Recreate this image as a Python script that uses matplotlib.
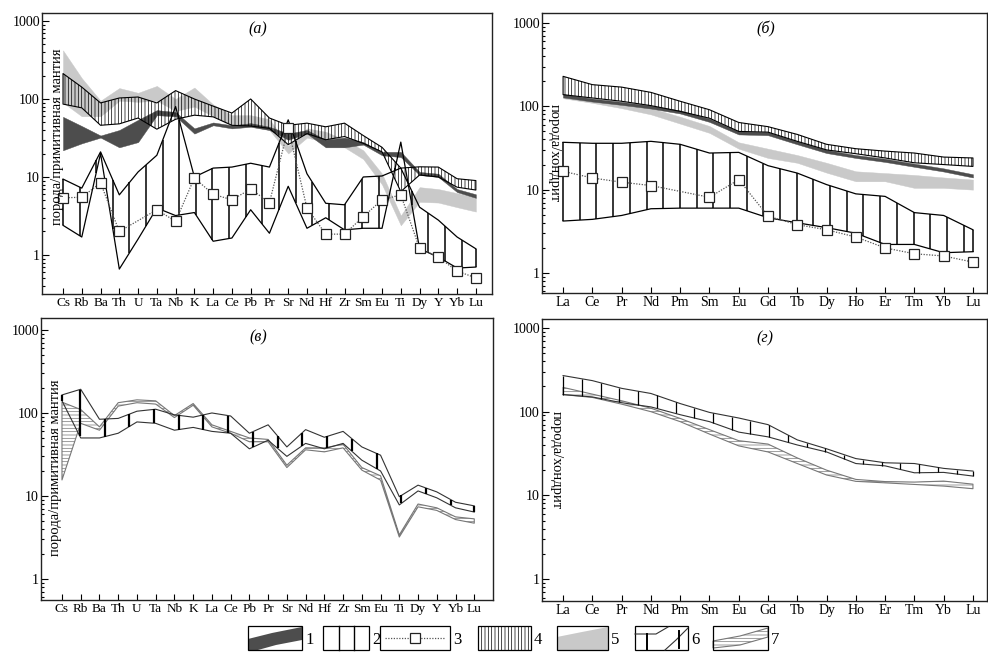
import matplotlib.pyplot as plt
import matplotlib.patches as mpatches
from matplotlib.ticker import LogLocator, NullFormatter
import numpy as np

plt.rcParams['font.family'] = 'Liberation Serif'
plt.rcParams['hatch.linewidth'] = 0.5

nan = np.nan

# element order for the spider diagrams and REE plots
spider = ['Cs', 'Rb', 'Ba', 'Th', 'U', 'Ta', 'Nb', 'K', 'La', 'Ce', 'Pb', 'Pr',
          'Sr', 'Nd', 'Hf', 'Zr', 'Sm', 'Eu', 'Ti', 'Dy', 'Y', 'Yb', 'Lu']
ree = ['La', 'Ce', 'Pr', 'Nd', 'Pm', 'Sm', 'Eu', 'Gd', 'Tb', 'Dy', 'Ho', 'Er',
       'Tm', 'Yb', 'Lu']

# (а) rock / primitive mantle
a1_hi = [59, 45, 34, 40, 54, 72, 68, 42, 50, 46, 49, 44, 36, 40, 30, 32, 28, 21, 21, 11.6, 11, 7.0, 6.0]
a1_lo = [22, 27, 32, 24, 28, 62, 60, 36, 46, 42, 44, 40, 30, 36, 24, 24, 26, 19, 18, 10.6, 10, 6.4, 5.4]
a2_hi = [9.4, 7.2, 21, 5.9, 11.6, 19, 80, 10, 13, 13.4, 15, 13.4, 54, 11, 4.6, 4.4, 10, 10.3, 13, 4.1, 2.8, 1.7, 1.2]
a2_lo = [2.4, 1.7, 20, 0.66, 1.6, 4.0, 3.2, 3.5, 1.5, 1.65, 3.8, 1.9, 7.6, 2.2, 3.0, 2.1, 2.2, 2.2, 28, 1.2, 0.94, 0.68, 0.7]
a3 = [5.4, 5.5, 8.4, 2.0, nan, 3.8, 2.7, 9.7, 6.0, 5.1, 7.0, 4.7, 42, 4.0, 1.85, 1.85, 3.1, 5.1, 5.9, 1.22, 0.94, 0.62, 0.51]
a4_hi = [212, 142, 89, 103, 106, 89, 128, 100, 81, 66, 100, 57, 46, 49, 44, 49, 34, 24, 13, 13.5, 13.4, 9.5, 9.0]
a4_lo = [86, 77, 46, 48, 57, 41, 55, 62, 59, 46, 45, 42, 26, 36, 30, 33, 27, 21, 6.5, 10.6, 10, 7.4, 6.8]
a5_hi = [420, 185, 95, 138, 120, 147, 100, 140, 85, 62, 62, 55, 25, 42, 38, 30, 22, 11, 3.2, 7.4, 7.0, 6.2, 5.5]
a5_lo = [90, 60, 60, 95, 92, 95, 70, 80, 60, 45, 45, 40, 20, 32, 28, 24, 17, 8, 2.4, 4.8, 4.7, 4.1, 3.6]

# (б) rock / chondrite
b1_hi = [140, 124, 113, 102, 89, 71, 50, 49, 38, 30, 26, 23.5, 20.5, 18, 15.3]
b1_lo = [128, 114, 104, 94, 82, 65, 46, 45, 35, 27.5, 24, 21.5, 18.8, 16.5, 14.0]
b2_hi = [37, 36, 36, 38, 35, 27.5, 28, 19.4, 15.8, 11.5, 8.9, 8.3, 5.3, 4.9, 3.3]
b2_lo = [4.2, 4.4, 4.9, 5.9, 6.0, 6.0, 6.0, 4.6, 4.0, 3.5, 3.0, 2.2, 2.2, 1.75, 1.8]
b3 = [16.6, 13.8, 12.3, 11.2, nan, 8.1, 13.2, 4.8, 3.8, 3.3, 2.7, 2.0, 1.7, 1.6, 1.35]
b4_hi = [229, 182, 170, 147, 115, 91, 64, 57, 46, 35, 31, 29, 27.5, 24.6, 24]
b4_lo = [138, 126, 115, 102, 87, 72, 50, 49, 38, 30, 27, 24, 21, 20, 19]
b5_hi = [135, 120, 110, 95, 75, 58, 37, 31, 26, 21, 16.6, 15.8, 15, 14, 13.2]
b5_lo = [125, 110, 95, 80, 62, 48, 31, 24, 21, 16, 12.6, 12.6, 10.5, 10.5, 10]

# (в) rock / primitive mantle
v6_hi = [165, 193, 84, 86, 105, 111, 95, 89, 100, 92, 57, 72, 39, 63, 51, 60, 39, 31, 9.8, 13.5, 11.2, 8.4, 7.6]
v6_lo = [140, 50, 50, 57, 78, 75, 62, 67, 60, 57, 37, 47, 30, 43, 37, 43, 27, 20, 7.8, 11.5, 9.5, 7.2, 6.4]
v7_hi = [135, 110, 68, 133, 144, 140, 93, 130, 72, 60, 50, 48, 23.5, 38, 38, 42, 22, 17.5, 3.4, 8.0, 7.2, 5.6, 5.3]
v7_lo = [15.6, 75, 62, 121, 133, 128, 88, 124, 68, 57, 45, 45, 22, 36, 34, 38, 20.5, 15.5, 3.2, 7.4, 6.7, 5.2, 4.7]

# (г) rock / chondrite
g6_hi = [270, 235, 190, 165, 125, 98, 84, 70, 46, 36, 27.5, 24.5, 24, 21, 19.5]
g6_lo = [160, 150, 128, 114, 92, 76, 57, 50, 40, 33, 24, 22.5, 18.6, 18.8, 17]
g7_hi = [195, 162, 135, 110, 83, 61, 45, 41, 28, 20, 15.5, 14.6, 14.4, 14.8, 13.6]
g7_lo = [160, 148, 123, 100, 76, 54, 39, 33, 24, 17.5, 14.7, 14.1, 13.5, 12.9, 12]

DARK = '#4d4d4d'
LIGHT = '#c9c9c9'


def solid_band(ax, lo, hi, color):
    x = np.arange(len(lo))
    ax.fill_between(x, lo, hi, color=color, lw=0.3, zorder=1)


def hatch_band(ax, lo, hi, hatch, color, lw=0.8, z=2):
    x = np.arange(len(lo))
    ax.fill_between(x, lo, hi, facecolor='none', edgecolor=color, hatch=hatch,
                    lw=lw, zorder=z)


def bar_band(ax, lo, hi, step, start=0.0, blw=1.1, elw=0.9, color='k', bcolor='k'):
    # outlined band with vertical strokes spaced along x
    n = len(lo)
    x = np.arange(n)
    ax.plot(x, hi, color=color, lw=elw, zorder=3)
    ax.plot(x, lo, color=color, lw=elw, zorder=3)
    xs = np.unique(np.concatenate([[0, n - 1], np.arange(start, n - 1, step)]))
    l = 10 ** np.interp(xs, x, np.log10(lo))
    h = 10 ** np.interp(xs, x, np.log10(hi))
    ax.vlines(xs, l, h, color=bcolor, lw=blw, zorder=3)


def squares(ax, vals):
    v = np.array(vals, float)
    x = np.arange(len(v))
    m = ~np.isnan(v)
    ax.plot(x[m], v[m], ls=(0, (1, 1.2)), color='#555555', lw=0.9, zorder=4)
    ax.plot(x[m], v[m], ls='none', marker='s', ms=6.8, mfc='white',
            mec='#222222', mew=0.9, zorder=5)


def setup(ax, labels, xlim, ylim, fs, ylabel, ylab_xy, rot, title, title_xy):
    ax.set_yscale('log')
    ax.set_xlim(*xlim)
    ax.set_ylim(*ylim)
    ax.set_xticks(range(len(labels)))
    ax.set_xticklabels(labels, fontsize=fs)
    ax.set_yticks([1, 10, 100, 1000])
    ax.set_yticklabels(['1', '10', '100', '1000'], fontsize=10)
    ax.yaxis.set_minor_locator(LogLocator(base=10, subs=np.arange(2, 10)))
    ax.yaxis.set_minor_formatter(NullFormatter())
    ax.tick_params(direction='in', which='both', width=0.8)
    ax.tick_params(axis='x', length=4, pad=2)
    ax.tick_params(axis='y', which='major', length=5, pad=1.5)
    ax.tick_params(axis='y', which='minor', length=2.5)
    for s in ax.spines.values():
        s.set_linewidth(1.0)
        s.set_color('#222222')
    ax.text(*ylab_xy, ylabel, transform=ax.transAxes, rotation=rot,
            ha='center', va='center', fontsize=10.5, zorder=6)
    ax.text(*title_xy, title, transform=ax.transAxes, ha='center', va='center',
            fontsize=11.5, style='italic')


fig = plt.figure(figsize=(9.88, 6.52), dpi=100)
W, H = 988.0, 652.0


def axes_px(left, top, right, bottom):
    return fig.add_axes([left / W, 1 - bottom / H, (right - left) / W, (bottom - top) / H])


ax_a = axes_px(42, 13, 492, 294)
ax_b = axes_px(542, 13, 987, 293)
ax_v = axes_px(41, 318, 493, 600)
ax_g = axes_px(542, 319, 987, 601)

# (а)
solid_band(ax_a, a5_lo, a5_hi, LIGHT)
solid_band(ax_a, a1_lo, a1_hi, DARK)
hatch_band(ax_a, a4_lo, a4_hi, '|||||', 'black')
bar_band(ax_a, a2_lo, a2_hi, step=0.885)
squares(ax_a, a3)
setup(ax_a, spider, (-1.12, 22.86), (0.316, 1266), 9.5,
      'порода/примитивная мантия', (0.034, 0.56), 90, '(а)', (0.48, 0.94))

# (б)
solid_band(ax_b, b5_lo, b5_hi, LIGHT)
solid_band(ax_b, b1_lo, b1_hi, DARK)
hatch_band(ax_b, b4_lo, b4_hi, '|||||', 'black')
bar_band(ax_b, b2_lo, b2_hi, step=0.57)
squares(ax_b, b3)
setup(ax_b, ree, (-0.72, 14.48), (0.575, 1318), 10,
      'порода/хондрит', (0.027, 0.5), 270, '(б)', (0.503, 0.94))

# (в)
hatch_band(ax_v, v7_lo, v7_hi, '-----', '#777777', lw=0.8)
bar_band(ax_v, v6_lo, v6_hi, step=1.32, start=0.95, blw=1.6, elw=0.8,
         color='#333333', bcolor='black')
setup(ax_v, spider, (-1.12, 23.0), (0.558, 1394), 9.5,
      'порода/примитивная мантия', (0.031, 0.47), 90, '(в)', (0.48, 0.93))

# (г)
hatch_band(ax_g, g7_lo, g7_hi, '-----', '#777777', lw=0.8)
bar_band(ax_g, g6_lo, g6_hi, step=0.64, start=0.0, blw=0.9, elw=0.8,
         color='#333333', bcolor='black')
setup(ax_g, ree, (-0.72, 14.48), (0.546, 1281), 10,
      'порода/хондрит', (0.031, 0.5), 270, '(г)', (0.50, 0.93))

# legend strip along the bottom, in pixel units
lg = fig.add_axes([0, 0, 1, 36 / H])
lg.set_xlim(0, W)
lg.set_ylim(H, H - 36)
lg.axis('off')
top, bot = 626, 650
boxes = [(248, 302), (323, 369), (380, 450), (478, 531), (557, 608), (635, 688), (713, 768)]

lg.add_patch(mpatches.Polygon([(248, bot), (248, 639), (272, 633), (302, 627), (302, 640),
                               (276, 645), (258, bot)], closed=True, color=DARK, lw=0))
for xx in (338.5, 354):
    lg.plot([xx, xx], [top, bot], color='k', lw=1.0)
lg.plot([385, 445], [638, 638], ls=(0, (1, 1.2)), color='#555555', lw=0.9)
lg.plot([415], [638], ls='none', marker='s', ms=6.8, mfc='white', mec='#222222', mew=0.9)
lg.add_patch(mpatches.Rectangle((478, top), 53, bot - top, facecolor='none',
                                edgecolor='black', hatch='|||||', lw=0))
lg.add_patch(mpatches.Polygon([(557, bot), (557, 637), (582, 632), (608, 627), (608, bot)],
                              closed=True, color=LIGHT, lw=0))
lg.plot([635, 656, 668], [634, 634, 627], color='#333333', lw=0.8)
lg.plot([647, 647], [634, bot], color='k', lw=1.4)
lg.plot([665, 676, 688], [bot, 640, 628], color='#333333', lw=0.8)
lg.plot([679, 679], [631, 648], color='k', lw=1.4)
lg.add_patch(mpatches.Polygon([(713, 641), (740, 636), (768, 628), (768, 637), (740, 645),
                               (713, 648)], closed=True, facecolor='none',
                              edgecolor='#777777', hatch='-----', lw=0.8))
for (x0, x1), num in zip(boxes, range(1, 8)):
    lg.add_patch(mpatches.Rectangle((x0, top), x1 - x0, bot - top, facecolor='none',
                                    edgecolor='black', lw=0.9))
    lg.text(x1 + 3, 640, str(num), fontsize=12, ha='left', va='center')

fig.savefig('out.png', dpi=100)
